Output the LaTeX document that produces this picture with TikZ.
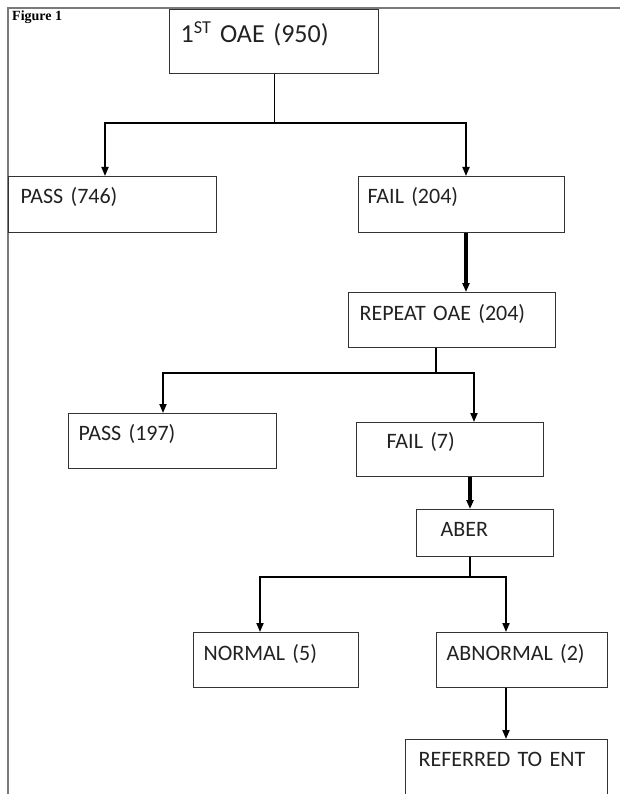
\documentclass[tikz,border=0pt]{standalone}
\usepackage{fontspec}
\setmainfont{Carlito}[WordSpace=0.6]
\newfontfamily\figfont{Liberation Serif}
\usepackage{xcolor}
\usepackage{tikz}
\usetikzlibrary{arrows.meta,calc}

\definecolor{boxline}{HTML}{333333}
\definecolor{pagerule}{HTML}{7A7A7A}
\definecolor{labeltext}{HTML}{222222}

\begin{document}
\begin{tikzpicture}[x=1pt, y=-1pt, >={Triangle[length=9pt,width=7pt]},
  box/.style={draw=boxline, line width=1.2pt, anchor=north west, inner ysep=0pt,
    align=left, text=labeltext, text height=27pt, font=\fontsize{22}{26}\selectfont},
  link/.style={draw=black, line width=1.1pt, line cap=rect},
  flow/.style={->, draw=black, line width=1.8pt},
  thickflow/.style={->, draw=black, line width=3.4pt}]

\useasboundingbox (0,0) rectangle (625,794);
\clip (0,0) rectangle (625,794);

% page rule
\draw[pagerule, line width=2pt] (8,794) -- (8,8) -- (620,8);
\node[anchor=base west, inner sep=0pt, font=\figfont\bfseries\fontsize{14}{16}\selectfont] (figlabel) at (12,21) {Figure 1};

% boxes
\node[box, font=\fontsize{26}{30}\selectfont, text height=33pt, text depth=31pt, inner xsep=11pt, text width=187pt] (oae) at (169,9) {1\textsuperscript{ST} OAE (950)};
\node[box, text depth=29pt, inner xsep=12pt, text width=184pt] (pass746) at (8,176) {PASS (746)};
\node[box, text depth=29pt, inner xsep=9pt, text width=188pt] (fail204) at (358,176) {FAIL (204)};
\node[box, text height=28pt, text depth=27pt, inner xsep=11pt, text width=185pt] (repeat) at (348,292) {REPEAT OAE (204)};
\node[box, text depth=28pt, inner xsep=10pt, text width=188pt] (pass197) at (68,413) {PASS (197)};
\node[box, text height=26pt, text depth=28pt, inner xsep=30pt, text width=127pt] (fail7) at (356,422) {FAIL (7)};
\node[box, text depth=20pt, inner xsep=24pt, text width=89pt] (aber) at (416,509) {ABER};
\node[box, text height=28pt, text depth=27pt, inner xsep=10pt, text width=145pt] (normal) at (193,632) {NORMAL (5)};
\node[box, text height=28pt, text depth=27pt, inner xsep=10pt, text width=151pt] (abnormal) at (436,632) {ABNORMAL (2)};
\node[box, text depth=50pt, inner xsep=13pt, text width=176pt] (referred) at (405,739) {REFERRED TO ENT};

% branch points
\coordinate (b1l) at (105,123);
\coordinate (b1r) at (466,123);
\coordinate (b2)  at (436,373);
\coordinate (b2l) at (163,373);
\coordinate (b2r) at (474,373);
\coordinate (b3)  at (470,577);
\coordinate (b3l) at (260,577);
\coordinate (b3r) at (506,577);

% connectors
\draw[link] (oae.south) -- (oae.south |- b1l);
\draw[link] (b1l) -- (b1r);
\draw[thickflow] (b1r |- fail204.south) -- (b1r |- repeat.north);
\draw[link] (b2 |- repeat.south) -- (b2);
\draw[link] (b2l) -- (b2r);
\draw[thickflow] (b3 |- fail7.south) -- (b3 |- aber.north);
\draw[link] (b3 |- aber.south) -- (b3);
\draw[link] (b3l) -- (b3r);
\foreach \from/\to in {b1l/pass746, b1r/fail204, b2l/pass197, b2r/fail7, b3l/normal, b3r/abnormal}
  \draw[flow] (\from) -- (\from |- \to.north);
\draw[flow] (b3r |- abnormal.south) -- (b3r |- referred.north);

\end{tikzpicture}
\end{document}
